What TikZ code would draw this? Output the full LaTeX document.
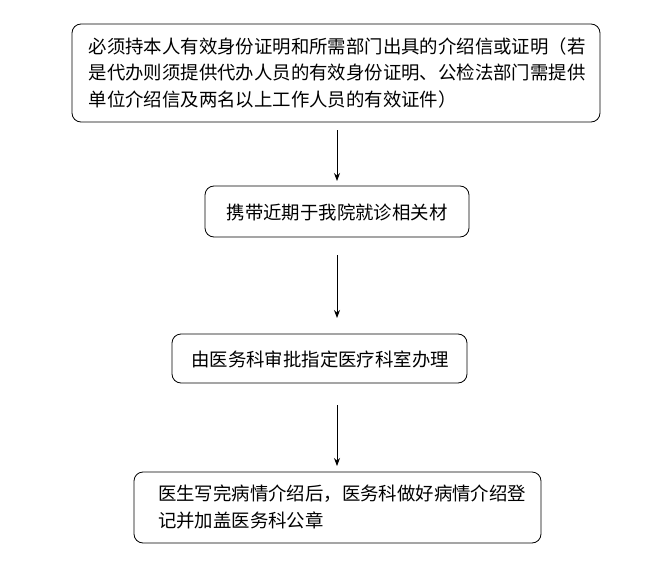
\documentclass[tikz,border=0pt]{standalone}
\usepackage{fontspec}
\newfontfamily\cjk{Noto Sans CJK SC}
\usetikzlibrary{arrows.meta}
\begin{document}
\begin{tikzpicture}[x=1pt,y=-1pt,
  box/.style={draw=black,line width=0.8pt,rounded corners=9pt,inner sep=0pt},
  txt/.style={font=\cjk\fontsize{18.4}{26.5}\selectfont,align=left},
  arr/.style={-{Stealth[length=8pt,width=6pt]},line width=0.8pt}]
\useasboundingbox (0,0) rectangle (664,578);
\fill[white] (0,0) rectangle (664,578);
\draw[box] (72,24) rectangle (600,122);
\node[txt] (t1) at (337,73) {必须持本人有效身份证明和所需部门出具的介绍信或证明（若\\是代办则须提供代办人员的有效身份证明、公检法部门需提供\\单位介绍信及两名以上工作人员的有效证件）};
\draw[box] (205,186) rectangle (469,237);
\node[txt] (t2) at (337,212) {携带近期于我院就诊相关材};
\draw[box] (172,334) rectangle (467,383);
\node[txt] (t3) at (320,359) {由医务科审批指定医疗科室办理};
\draw[box] (134,472) rectangle (541,543);
\node[txt] (t4) at (342,507) {医生写完病情介绍后，医务科做好病情介绍登\\记并加盖医务科公章};
\coordinate (a1) at (337,130); \coordinate (b1) at (337,181);
\coordinate (a2) at (337,255); \coordinate (b2) at (337,318);
\coordinate (a3) at (337,405); \coordinate (b3) at (337,466);
\draw[arr] (a1) -- (b1);
\draw[arr] (a2) -- (b2);
\draw[arr] (a3) -- (b3);
\end{tikzpicture}
\end{document}
